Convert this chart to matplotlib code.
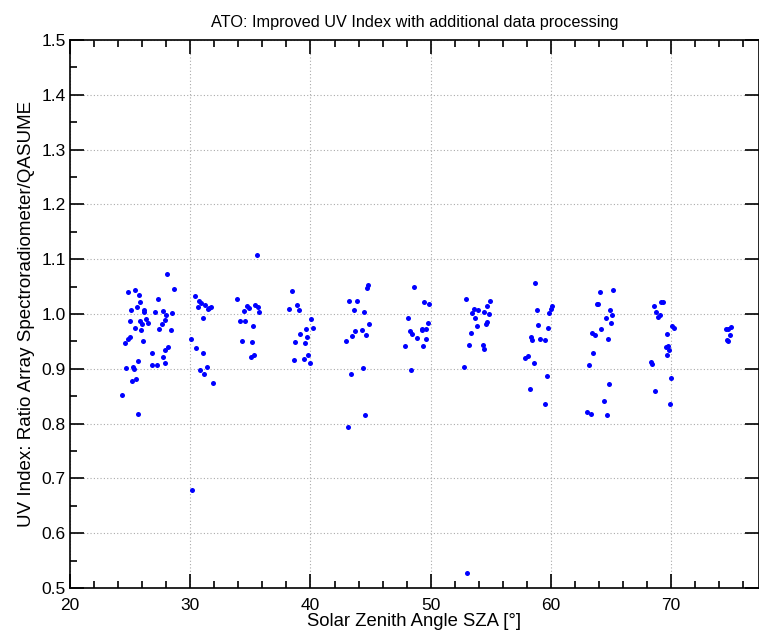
import numpy as np
import matplotlib
matplotlib.use('Agg')
import matplotlib.pyplot as plt
from matplotlib.ticker import MultipleLocator

plt.rcParams['font.family'] = ['Liberation Sans', 'DejaVu Sans']

# Avlästa punkter: solens zenitvinkel (grader) och kvot
sza = [
    35.53, 28.08, 28.67, 24.86, 25.39, 25.72, 27.33, 25.78, 25.56, 25.11,
    26.17, 26.19, 27.06, 27.75, 28.00, 28.50, 24.97, 25.86, 26.00, 26.33,
    26.50, 27.92, 27.61, 25.44, 25.89, 27.44, 28.36, 25.00, 24.86, 24.58,
    26.06, 26.78, 28.11, 27.86, 27.75, 25.64, 26.83, 27.25, 27.89, 24.69,
    25.28, 25.31, 25.50, 25.14, 24.33, 25.64,
    30.36, 30.75, 30.92, 31.22, 30.64, 31.44, 31.69, 31.56, 31.06, 30.06,
    30.47, 31.03, 31.36, 30.83, 31.14, 31.86, 30.17,
    33.89, 34.72, 34.86, 35.42, 35.61, 35.72, 34.44, 34.17, 34.56, 35.19,
    34.28, 35.11, 35.31, 35.03,
    38.50, 38.89, 38.25, 39.03, 40.03, 39.64, 40.17, 39.14, 39.72, 38.75,
    39.56, 39.83, 39.47, 38.61, 39.92,
    44.78, 44.67, 43.19, 43.83, 43.58, 44.42, 44.89, 44.28, 44.58, 43.72,
    43.42, 42.97, 44.36, 43.33, 44.50, 43.08,
    48.64, 49.47, 49.86, 48.14, 49.75, 48.25, 48.47, 49.31, 49.64, 49.25,
    48.89, 49.58, 47.89, 49.39, 48.36,
    52.97, 54.94, 54.69, 53.58, 53.94, 54.44, 53.44, 54.81, 53.69, 54.64,
    54.58, 53.83, 53.33, 53.19, 54.36, 54.42, 52.78, 53.05,
    58.67, 58.81, 60.06, 59.97, 59.86, 58.94, 59.78, 58.31, 58.44, 59.06,
    59.47, 58.08, 57.86, 58.56, 59.67, 58.25, 59.50,
    64.06, 65.19, 63.81, 63.94, 64.89, 65.08, 64.61, 65.00, 64.17, 63.42,
    63.67, 64.75, 63.53, 63.19, 64.83, 64.42, 62.97, 63.33, 64.67,
    68.53, 69.14, 69.31, 68.75, 69.03, 68.89, 70.08, 70.25, 69.61, 69.53,
    69.75, 69.83, 69.67, 68.31, 68.44, 69.97, 68.64, 69.89,
    74.56, 74.75, 74.94, 74.86, 74.64, 74.72,
]
kvot = [
    1.108, 1.073, 1.045, 1.040, 1.044, 1.035, 1.027, 1.022, 1.012, 1.007,
    1.007, 1.004, 1.003, 1.005, 0.999, 1.002, 0.987, 0.987, 0.982, 0.990,
    0.983, 0.989, 0.982, 0.975, 0.970, 0.972, 0.970, 0.958, 0.955, 0.947,
    0.950, 0.929, 0.939, 0.935, 0.922, 0.915, 0.907, 0.907, 0.911, 0.902,
    0.904, 0.899, 0.882, 0.878, 0.853, 0.818,
    1.033, 1.024, 1.020, 1.016, 1.013, 1.009, 1.013, 1.011, 0.993, 0.955,
    0.938, 0.929, 0.904, 0.898, 0.891, 0.875, 0.678,
    1.027, 1.014, 1.011, 1.017, 1.012, 1.004, 1.005, 0.988, 0.988, 0.979,
    0.950, 0.948, 0.926, 0.921,
    1.042, 1.016, 1.010, 1.007, 0.990, 0.973, 0.975, 0.963, 0.958, 0.948,
    0.947, 0.926, 0.918, 0.916, 0.911,
    1.053, 1.048, 1.023, 1.024, 1.008, 1.004, 0.982, 0.971, 0.962, 0.969,
    0.960, 0.951, 0.901, 0.890, 0.816, 0.793,
    1.050, 1.021, 1.019, 0.993, 0.984, 0.969, 0.964, 0.973, 0.973, 0.970,
    0.956, 0.955, 0.941, 0.941, 0.898,
    1.027, 1.024, 1.014, 1.009, 1.008, 1.004, 1.001, 1.000, 0.993, 0.985,
    0.982, 0.978, 0.965, 0.943, 0.943, 0.936, 0.904, 0.527,
    1.057, 1.007, 1.014, 1.010, 1.001, 0.980, 0.975, 0.958, 0.953, 0.955,
    0.953, 0.924, 0.919, 0.911, 0.887, 0.863, 0.836,
    1.040, 1.044, 1.019, 1.018, 1.008, 0.998, 0.993, 0.984, 0.973, 0.965,
    0.961, 0.955, 0.929, 0.907, 0.873, 0.842, 0.822, 0.818, 0.815,
    1.015, 1.022, 1.022, 1.003, 0.998, 0.995, 0.978, 0.975, 0.964, 0.939,
    0.942, 0.935, 0.925, 0.912, 0.909, 0.884, 0.859, 0.835,
    0.973, 0.972, 0.977, 0.961, 0.952, 0.950,
]

fig = plt.figure(figsize=(7.59, 6.36), dpi=100)
ax = fig.add_axes([70 / 759, 48 / 636, 689 / 759, 548 / 636])

ax.plot(sza, kvot, 'o', color='#0000ff', markersize=3.6, markeredgewidth=0)

ax.set_xlim(20, 77.3)
ax.set_ylim(0.5, 1.5)
ax.xaxis.set_major_locator(MultipleLocator(10))
ax.xaxis.set_minor_locator(MultipleLocator(2))
ax.yaxis.set_major_locator(MultipleLocator(0.1))
ax.yaxis.set_minor_locator(MultipleLocator(0.05))

ax.grid(True, which='major', color='#aaaaaa', linestyle=(0, (1, 2)), linewidth=0.8)

ax.tick_params(which='both', direction='in', labelsize=12.5, top=True, width=1.2)
ax.tick_params(which='major', length=10)
ax.tick_params(which='minor', length=5)
ax.tick_params(axis='x', which='major', pad=7)
ax.tick_params(axis='y', which='major', pad=3, right=True)
ax.tick_params(axis='y', which='minor', right=False)
for s in ax.spines.values():
    s.set_linewidth(1.2)

ax.set_title('ATO: Improved UV Index with additional data processing', fontsize=11.7, pad=9)
ax.set_xlabel('Solar Zenith Angle SZA [°]', fontsize=13.3, labelpad=0)
ax.set_ylabel('UV Index: Ratio Array Spectroradiometer/QASUME', fontsize=13.5, labelpad=5)

fig.savefig('out.png', dpi=100)
